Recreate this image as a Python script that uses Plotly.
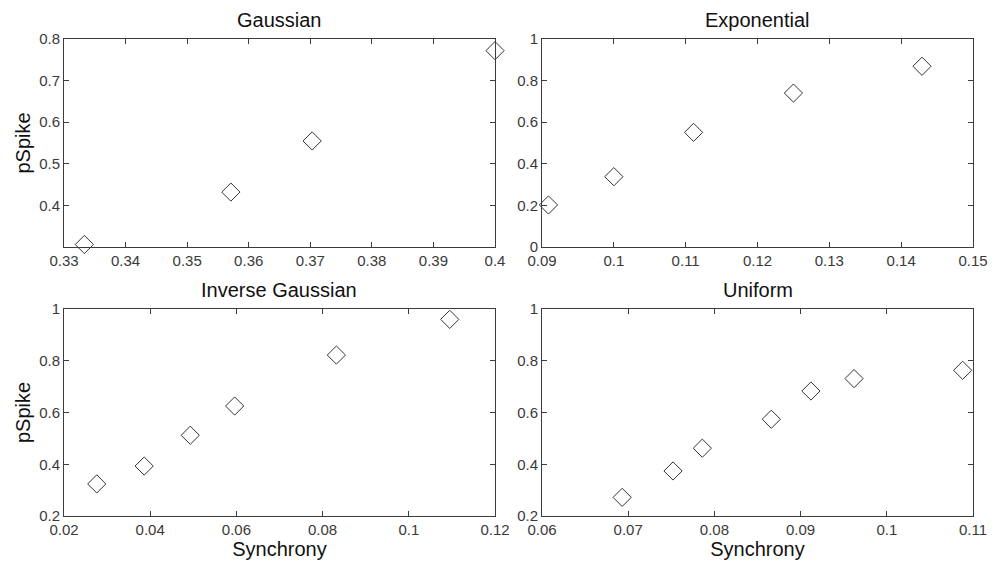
import plotly.graph_objects as go

# ---- data ----
gauss_x = [0.3333, 0.3571, 0.3703, 0.4000]
gauss_y = [0.306, 0.432, 0.555, 0.772]

expo_x = [0.0909, 0.1000, 0.1111, 0.1250, 0.1429]
expo_y = [0.202, 0.338, 0.551, 0.740, 0.869]

invg_x = [0.0276, 0.0386, 0.0493, 0.0596, 0.0832, 0.1095]
invg_y = [0.324, 0.393, 0.512, 0.625, 0.822, 0.960]

unif_x = [0.0693, 0.0752, 0.0786, 0.0866, 0.0912, 0.0962, 0.1088]
unif_y = [0.272, 0.374, 0.462, 0.574, 0.683, 0.731, 0.763]

titles = ["Gaussian", "Exponential", "Inverse Gaussian", "Uniform"]

gauss_xticks = [0.33, 0.34, 0.35, 0.36, 0.37, 0.38, 0.39, 0.4]
gauss_yticks = [0.4, 0.5, 0.6, 0.7, 0.8]
expo_xticks = [0.09, 0.1, 0.11, 0.12, 0.13, 0.14, 0.15]
expo_yticks = [0, 0.2, 0.4, 0.6, 0.8, 1]
invg_xticks = [0.02, 0.04, 0.06, 0.08, 0.1, 0.12]
invg_yticks = [0.2, 0.4, 0.6, 0.8, 1]
unif_xticks = [0.06, 0.07, 0.08, 0.09, 0.1, 0.11]
unif_yticks = [0.2, 0.4, 0.6, 0.8, 1]

FONT = "Liberation Sans, Arial, sans-serif"
AX = "#3c3c3c"
W, H = 1000, 562

xdom_l = [64 / W, 495 / W]
xdom_r = [542 / W, 973 / W]
ydom_t = [1 - 247 / H, 1 - 39 / H]
ydom_b = [1 - 516 / H, 1 - 309 / H]

fig = go.Figure()
series = [(gauss_x, gauss_y), (expo_x, expo_y), (invg_x, invg_y), (unif_x, unif_y)]
for i, (xs, ys) in enumerate(series):
    n = "" if i == 0 else str(i + 1)
    fig.add_trace(go.Scatter(
        x=xs, y=ys, mode="markers", xaxis="x" + n, yaxis="y" + n,
        marker=dict(symbol="diamond-open", size=14, color="#333333",
                    line=dict(width=1, color="#333333")),
        showlegend=False, cliponaxis=False))


def xa(dom, rng, ticks, anchor, title=None):
    d = dict(domain=dom, range=rng, tickvals=ticks, anchor=anchor, automargin=False,
             showgrid=False, zeroline=False, showline=True, linecolor=AX, linewidth=1,
             mirror="ticks", ticks="inside", ticklen=5, tickcolor=AX,
             tickfont=dict(family=FONT, size=15, color="#3a3a3a"))
    if title:
        d["title"] = dict(text=title, font=dict(family=FONT, size=20, color="#111111"), standoff=3)
    return d


layout = dict(
    template="none",
    width=W, height=H, margin=dict(l=0, r=0, t=0, b=0, autoexpand=False),
    paper_bgcolor="white", plot_bgcolor="white",
    xaxis=xa(xdom_l, [0.33, 0.4], gauss_xticks, "y"),
    yaxis=xa(ydom_t, [0.3, 0.8], gauss_yticks, "x", "pSpike"),
    xaxis2=xa(xdom_r, [0.09, 0.15], expo_xticks, "y2"),
    yaxis2=xa(ydom_t, [0, 1], expo_yticks, "x2"),
    xaxis3=xa(xdom_l, [0.02, 0.12], invg_xticks, "y3", "Synchrony"),
    yaxis3=xa(ydom_b, [0.2, 1], invg_yticks, "x3", "pSpike"),
    xaxis4=xa(xdom_r, [0.06, 0.11], unif_xticks, "y4", "Synchrony"),
    yaxis4=xa(ydom_b, [0.2, 1], unif_yticks, "x4"),
)
fig.update_layout(**layout)
fig.update_xaxes(title_standoff=2)

title_pos = [
    ((xdom_l[0] + xdom_l[1]) / 2, 1 - 20 / H),
    ((xdom_r[0] + xdom_r[1]) / 2, 1 - 20 / H),
    ((xdom_l[0] + xdom_l[1]) / 2, 1 - 290 / H),
    ((xdom_r[0] + xdom_r[1]) / 2, 1 - 290 / H),
]
for t, (px, py) in zip(titles, title_pos):
    fig.add_annotation(text=t, x=px, y=py, xref="paper", yref="paper",
                       showarrow=False, xanchor="center", yanchor="middle",
                       font=dict(family=FONT, size=20, color="#111111"))

fig.write_html("out.html")
